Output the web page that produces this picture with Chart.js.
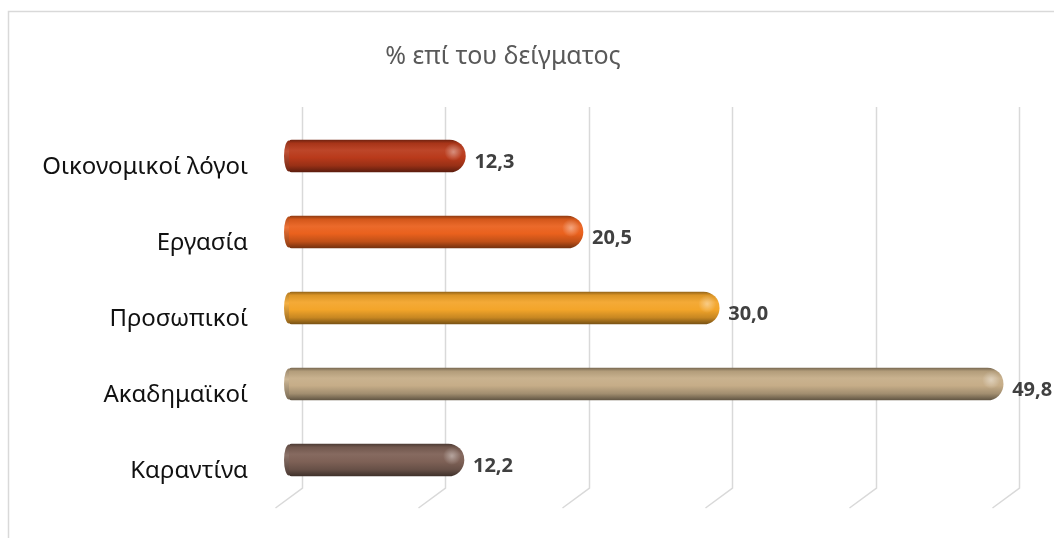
<!DOCTYPE html>
<html lang="el">
<head>
<meta charset="utf-8">
<title>% επί του δείγματος</title>
<script src="https://cdn.jsdelivr.net/npm/chart.js@4.4.1/dist/chart.umd.min.js"></script>
<style>
  html, body { margin: 0; padding: 0; background: #ffffff; }
  #wrap { width: 1054px; height: 538px; position: relative; }
</style>
</head>
<body>
<div id="wrap"><canvas id="chart" width="1054" height="538"></canvas></div>
<script>
// Reasons, share of the sample (%)
const categories = ['Οικονομικοί λόγοι', 'Εργασία', 'Προσωπικοί', 'Ακαδημαϊκοί', 'Καραντίνα'];
const values = [12.3, 20.5, 30.0, 49.8, 12.2];
const barColors = ['#b93a1b', '#ea611d', '#f3a52a', '#c6ad88', '#7e6156'];
const gridValues = [0, 10, 20, 30, 40, 50];

const BAR_H = 32;
const DEPTH_X = 13;   // back wall offset of the gridlines
const FLOOR_DX = -27; // floor slant of each gridline
const FLOOR_DY = 20;

function shade(hex, f) {
  const n = parseInt(hex.slice(1), 16);
  let r = (n >> 16) & 255, g = (n >> 8) & 255, b = n & 255;
  if (f <= 1) { r *= f; g *= f; b *= f; }
  else { const t = f - 1; r += (255 - r) * t; g += (255 - g) * t; b += (255 - b) * t; }
  return 'rgb(' + Math.round(r) + ',' + Math.round(g) + ',' + Math.round(b) + ')';
}

function cylinderFill(ctx) {
  const chart = ctx.chart;
  const base = barColors[ctx.dataIndex];
  if (!chart.chartArea || !chart.scales.y) return base;
  const yc = chart.scales.y.getPixelForValue(ctx.dataIndex);
  const g = chart.ctx.createLinearGradient(0, yc - BAR_H / 2, 0, yc + BAR_H / 2);
  g.addColorStop(0, shade(base, 0.62));
  g.addColorStop(0.1, shade(base, 0.9));
  g.addColorStop(0.32, shade(base, 1.06));
  g.addColorStop(0.55, shade(base, 1.0));
  g.addColorStop(0.8, shade(base, 0.82));
  g.addColorStop(1, shade(base, 0.5));
  return g;
}

// white page with a light frame
const framePlugin = {
  id: 'frame',
  beforeDraw(chart) {
    const c = chart.ctx;
    c.save();
    c.fillStyle = '#ffffff';
    c.fillRect(0, 0, chart.width, chart.height);
    c.strokeStyle = '#d9d9d9';
    c.lineWidth = 1.5;
    c.strokeRect(8.5, 11.5, chart.width + 20, chart.height + 20);
    c.restore();
  }
};

// vertical gridlines on the back wall with their floor segments
const wallGridPlugin = {
  id: 'wallGrid',
  beforeDatasetsDraw(chart) {
    const c = chart.ctx;
    const xs = chart.scales.x;
    const top = chart.chartArea.top - 11;
    const bottom = chart.chartArea.bottom - 10;
    c.save();
    c.strokeStyle = '#d9d9d9';
    c.lineWidth = 1.5;
    gridValues.forEach(v => {
      const x = Math.round(xs.getPixelForValue(v)) + DEPTH_X + 0.5;
      c.beginPath();
      c.moveTo(x, top);
      c.lineTo(x, bottom);
      c.lineTo(x + FLOOR_DX, bottom + FLOOR_DY);
      c.stroke();
    });
    c.restore();
  }
};

// specular highlight on each cap and the value labels
const capAndLabelPlugin = {
  id: 'capAndLabel',
  afterDatasetsDraw(chart) {
    const c = chart.ctx;
    const meta = chart.getDatasetMeta(0);
    c.save();
    meta.data.forEach((bar, i) => {
      const { x, y, base } = bar.getProps(['x', 'y', 'base'], true);
      // left end rim
      const lg = c.createLinearGradient(0, y - BAR_H / 2, 0, y + BAR_H / 2);
      lg.addColorStop(0, shade(barColors[i], 0.75));
      lg.addColorStop(0.35, shade(barColors[i], 1.12));
      lg.addColorStop(1, shade(barColors[i], 0.6));
      c.fillStyle = lg;
      c.beginPath();
      c.ellipse(base, y, 5, BAR_H / 2 - 0.5, 0, Math.PI / 2, Math.PI * 1.5);
      c.fill();
      // highlight near the rounded end
      const hx = x - 12, hy = y - 4;
      const rg = c.createRadialGradient(hx, hy, 0, hx, hy, 9);
      rg.addColorStop(0, 'rgba(255,255,255,0.4)');
      rg.addColorStop(1, 'rgba(255,255,255,0)');
      c.fillStyle = rg;
      c.beginPath();
      c.arc(hx, hy, 9, 0, Math.PI * 2);
      c.fill();
      // value label
      c.fillStyle = '#404040';
      c.font = 'bold 20px "Noto Sans", sans-serif';
      c.textAlign = 'left';
      c.textBaseline = 'middle';
      c.fillText(values[i].toFixed(1).replace('.', ','), x + 9, y + 6);
    });
    c.restore();
  }
};

new Chart(document.getElementById('chart'), {
  type: 'bar',
  data: {
    labels: categories,
    datasets: [{
      data: values,
      backgroundColor: cylinderFill,
      borderWidth: 0,
      borderSkipped: false,
      borderRadius: { topLeft: 3, bottomLeft: 3, topRight: 16, bottomRight: 16 },
      barThickness: BAR_H
    }]
  },
  options: {
    indexAxis: 'y',
    responsive: false,
    animation: false,
    devicePixelRatio: 1,
    layout: { padding: { left: 0, right: 48, top: 0, bottom: 40 } },
    plugins: {
      legend: { display: false },
      tooltip: { enabled: false },
      title: {
        display: true,
        text: '% επί του δείγματος',
        color: '#595959',
        font: { family: '"Noto Sans", sans-serif', size: 25, weight: 'normal' },
        padding: { top: 42, bottom: 46 }
      }
    },
    scales: {
      x: { display: false, min: 0, max: 50 },
      y: {
        afterFit(scale) {
          scale.width = 289;
          scale.paddingTop = 0;
          scale.paddingBottom = 0;
        },
        grid: { display: false },
        border: { display: false },
        ticks: {
          color: '#111111',
          font: { family: '"Noto Sans", sans-serif', size: 24 },
          padding: 33,
          labelOffset: 11
        }
      }
    }
  },
  plugins: [framePlugin, wallGridPlugin, capAndLabelPlugin]
});
</script>
</body>
</html>
